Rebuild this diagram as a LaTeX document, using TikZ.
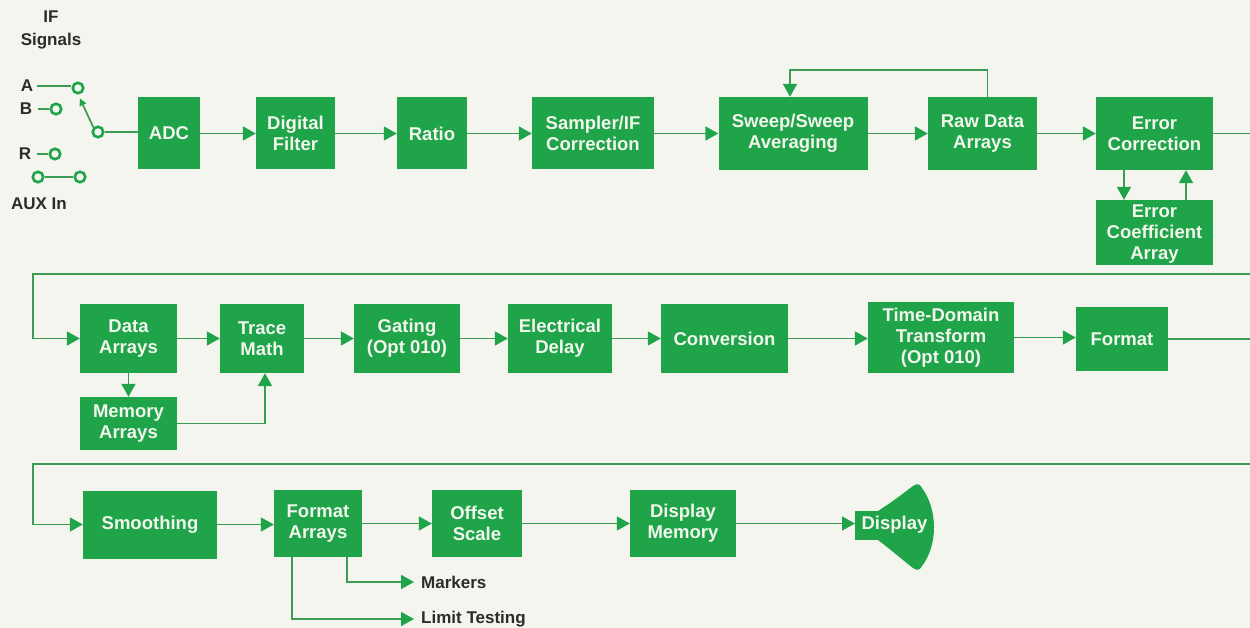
\documentclass[tikz,border=0pt]{standalone}
\usepackage{fontspec}
\setmainfont{Liberation Sans}
\usetikzlibrary{arrows.meta,calc}
\definecolor{bg}{HTML}{F3F5EE}
\definecolor{boxg}{HTML}{1FA44A}
\definecolor{lineg}{HTML}{3C9C52}
\definecolor{txtw}{HTML}{F2F6EC}
\definecolor{txtd}{HTML}{2C2C2C}
\tikzset{
  box/.style={fill=boxg, draw=none, inner sep=0pt, align=center, text=txtw,
    font=\fontsize{18.5}{21}\selectfont\bfseries},
  conn/.style={draw=lineg, line width=1.7pt},
  arr/.style={conn, -{Triangle[length=13pt,width=14pt,color=boxg]}},
  lbl/.style={text=txtd, font=\fontsize{17}{23}\selectfont\bfseries, inner sep=0pt, align=center},
  port/.style={circle, draw=boxg, line width=2.6pt, fill=bg, minimum size=10.5pt, inner sep=0pt}
}
\begin{document}
\begin{tikzpicture}[x=1pt,y=-1pt]
\fill[bg] (0,0) rectangle (1250,628);
\useasboundingbox (0,0) rectangle (1250,628);

% ---- inputs
\node[lbl] (ifs) at (51,30) {IF\\Signals};
\node[lbl] (la) at (27,86) {A};
\node[lbl] (lb) at (26,109) {B};
\node[lbl] (lr) at (25,154) {R};
\node[lbl] (laux) at (39,204) {AUX In};
\node[port] (pa) at (78,88) {};
\node[port] (pb) at (56,109) {};
\node[port] (pr) at (55,154) {};
\node[port] (px1) at (38,177) {};
\node[port] (px2) at (80,177) {};
\node[port] (psw) at (98,132) {};
\draw[conn] (37,86) -- (pa.west |- 0,86);
\draw[conn] (38,109) -- (pb.west);
\draw[conn] (37,154) -- (pr.west);
\draw[conn] (px1) -- (px2);
\draw[conn, -{Triangle[length=7pt,width=7pt,color=boxg]}] (psw.north west) -- ($(pa.south)+(2,4)$);

% ---- row 1
\node[box, minimum width=62pt, minimum height=72pt] (adc) at (169,133.5) {ADC};
\node[box, minimum width=79pt, minimum height=72pt] (dig) at (295.5,133.5) {Digital\\Filter};
\node[box, minimum width=70pt, minimum height=72pt] (rat) at (432,133.5) {Ratio};
\node[box, minimum width=122pt, minimum height=72pt] (samp) at (593,133.5) {Sampler/IF\\Correction};
\node[box, minimum width=149pt, minimum height=73pt] (swp) at (793,133.5) {Sweep/Sweep\\Averaging};
\node[box, minimum width=109pt, minimum height=73pt] (raw) at (982.5,133.5) {Raw Data\\Arrays};
\node[box, minimum width=117pt, minimum height=73pt] (err) at (1154.5,133.5) {Error\\Correction};
\node[box, minimum width=117pt, minimum height=65pt] (coef) at (1154.5,232.5) {};
\node[box, fill=none] (coeft) at (1154.5,234) {Error\\Coefficient\\Array};
\coordinate (e1) at (1250,133.5);

\draw[conn] (psw.east) -- (psw.east -| adc.west);
\draw[arr] (adc.east) -- (adc.east -| dig.west);
\draw[arr] (dig.east) -- (dig.east -| rat.west);
\draw[arr] (rat.east) -- (rat.east -| samp.west);
\draw[arr] (samp.east) -- (samp.east -| swp.west);
\draw[arr] (swp.east) -- (swp.east -| raw.west);
\draw[arr] (raw.east) -- (raw.east -| err.west);
\draw[conn] (err.east) -- (e1);
\draw[arr] ([xshift=5pt]raw.north) -- ++(0,-27) -| ([xshift=-3pt]swp.north);
\draw[arr] ([xshift=-30.5pt]err.south) -- ([xshift=-30.5pt]coef.north);
\draw[arr] ([xshift=31.5pt]coef.north) -- ([xshift=31.5pt]err.south);

% ---- row 2
\coordinate (w1) at (1250,274);
\coordinate (w1l) at (33,274);
\node[box, minimum width=97pt, minimum height=69pt] (dat) at (128.5,338.5) {Data\\Arrays};
\node[box, minimum width=84pt, minimum height=69pt] (trm) at (262,338.5) {Trace\\Math};
\node[box, minimum width=106pt, minimum height=69pt] (gat) at (407,338.5) {Gating\\(Opt 010)};
\node[box, minimum width=104pt, minimum height=69pt] (eld) at (560,338.5) {Electrical\\Delay};
\node[box, minimum width=127pt, minimum height=69pt] (cnv) at (724.5,338.5) {Conversion};
\node[box, minimum width=146pt, minimum height=71pt] (tdt) at (941,337.5) {Time-Domain\\Transform\\(Opt 010)};
\node[box, minimum width=92pt, minimum height=64pt] (fmt) at (1122,339) {Format};
\node[box, minimum width=97pt, minimum height=53pt] (mem) at (128.5,423.5) {Memory\\Arrays};
\coordinate (e2) at (1250,338);

\draw[arr] (w1) -- (w1l) |- (dat.west);
\draw[arr] (dat.east) -- (dat.east -| trm.west);
\draw[arr] (trm.east) -- (trm.east -| gat.west);
\draw[arr] (gat.east) -- (gat.east -| eld.west);
\draw[arr] (eld.east) -- (eld.east -| cnv.west);
\draw[arr] (cnv.east) -- (cnv.east -| tdt.west);
\draw[arr] (tdt.east) -- (tdt.east -| fmt.west);
\draw[conn] (fmt.east) -- (fmt.east -| e2);
\draw[arr] (dat.south) -- (mem.north);
\draw[arr] (mem.east) -| ([xshift=3pt]trm.south);

% ---- row 3
\coordinate (w2) at (1250,464);
\coordinate (w2l) at (33,464);
\node[box, minimum width=134pt, minimum height=68pt] (smo) at (150,524.5) {Smoothing};
\node[box, minimum width=88pt, minimum height=67pt] (fma) at (318,523.5) {Format\\Arrays};
\node[box, minimum width=90pt, minimum height=67pt] (ofs) at (477,523.5) {Offset\\Scale};
\node[box, minimum width=106pt, minimum height=67pt] (dmem) at (683,523.5) {Display\\Memory};
\node[box, minimum width=30pt, minimum height=29pt, anchor=west] (disp) at (855,525.5) {};
\fill[boxg] (878,511) .. controls (895,500) and (905,492) .. (913,486)
  .. controls (917,483) and (920,484) .. (922,488)
  .. controls (938,510) and (938,545) .. (922,566)
  .. controls (920,570) and (917,571) .. (913,568)
  .. controls (905,562) and (895,553) .. (878,540) -- cycle;
\node[box, fill=none] (dtxt) at (894.5,525) {Display};
\node[lbl, anchor=west] (mk) at (421,582) {Markers};
\node[lbl, anchor=west] (lt) at (421,619) {Limit Testing};

\draw[arr] (w2) -- (w2l) |- (smo.west);
\draw[arr] (smo.east) -- (smo.east -| fma.west);
\draw[arr] (fma.east) -- (fma.east -| ofs.west);
\draw[arr] (ofs.east) -- (ofs.east -| dmem.west);
\draw[arr] (dmem.east) -- (dmem.east -| disp.west);
\draw[arr] ([xshift=29pt]fma.south) |- ([xshift=-7pt]mk.west);
\draw[arr] ([xshift=-26pt]fma.south) |- ([xshift=-7pt]lt.west);
\end{tikzpicture}
\end{document}
